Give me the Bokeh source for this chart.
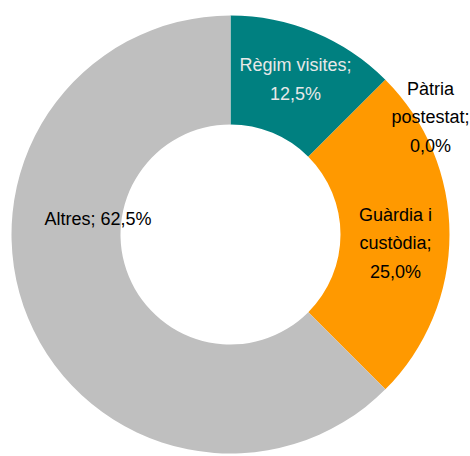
from math import pi
import numpy as np
from bokeh.plotting import figure
from bokeh.models import Range1d, ColumnDataSource
from bokeh.core.properties import value
from bokeh.embed import file_html
from bokeh.resources import INLINE

# ---- data ----
categories = ["Règim visites", "Pàtria postestat", "Guàrdia i custòdia", "Altres"]
label_texts = ["Règim visites;\n12,5%", "Pàtria\npostestat;\n0,0%", "Guàrdia i\ncustòdia;\n25,0%", "Altres; 62,5%"]
values = [12.5, 0.0, 25.0, 62.5]
colors = ["#008080", "#FF9900", "#FF9900", "#BFBFBF"]
label_colors = ["#E8E8E8", "#000000", "#000000", "#000000"]

# ---- layout (pixel units, centre of donut at 0,0) ----
W, H = 470, 456
CX, CY = 230, 234
OUTER_R, INNER_R = 219, 110
label_pos = {  # label anchor offsets from centre
    "Règim visites": (65, 155),
    "Pàtria postestat": (200, 117),
    "Guàrdia i custòdia": (165, -9),
    "Altres": (-132.5, 16),
}

vals = np.array(values)
frac = vals / vals.sum()
cum = np.concatenate([[0], np.cumsum(frac)])
start = pi / 2 - 2 * pi * cum[:-1]
end = pi / 2 - 2 * pi * cum[1:]
keep = vals > 0

src = ColumnDataSource(dict(start=start[keep], end=end[keep],
                            color=[c for c, k in zip(colors, keep) if k]))

p = figure(width=W, height=H, output_backend="svg", toolbar_location=None,
           x_range=Range1d(-CX, W - CX), y_range=Range1d(CY - H, CY),
           min_border=0)
p.axis.visible = False
p.grid.visible = False
p.outline_line_color = None
p.background_fill_color = "white"

p.annular_wedge(x=0, y=0, inner_radius=INNER_R, outer_radius=OUTER_R,
                start_angle="end", end_angle="start", direction="anticlock",
                fill_color="color", line_color=None, source=src)

lx = [label_pos[c][0] for c in categories]
ly = [label_pos[c][1] for c in categories]
lsrc = ColumnDataSource(dict(x=lx, y=ly, text=label_texts, color=label_colors))
p.text(x="x", y="y", text="text", source=lsrc, text_color="color",
       text_font=value("Liberation Sans"), text_font_size="18px",
       text_align="center", text_baseline="middle", text_line_height=1.42)

open("out.html", "w").write(file_html(p, INLINE))
